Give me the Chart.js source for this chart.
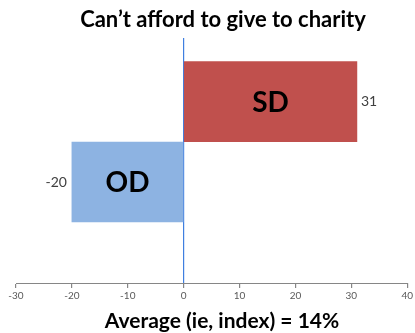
<!DOCTYPE html>
<html lang="en">

<head>
    <meta charset="UTF-8">
    <title>Can't afford to give to charity</title>
    <script src="https://cdn.jsdelivr.net/npm/chart.js"></script>
    <style>
        body { margin: 0; background: #fff; }
    </style>
</head>

<body>
    <canvas id="myChart" width="415" height="333"></canvas>

    <script>
        // chart data
        var categories = ['SD', 'OD'];
        var values = [31, -20];
        var barColors = ['#c0504d', '#8db3e2'];
        var xTicks = [-30, -20, -10, 0, 10, 20, 30, 40];
        var chartTitle = 'Can\u2019t afford to give to charity';
        var bottomTitle = 'Average (ie, index) = 14%';

        var FONT = 'Lato, "Open Sans", sans-serif';

        // titles, bar names and value labels
        var textPlugin = {
            id: 'texts',
            afterDraw: function (chart) {
                var ctx = chart.ctx;
                var meta = chart.getDatasetMeta(0);
                ctx.save();
                meta.data.forEach(function (bar, i) {
                    var v = values[i];
                    var left = Math.min(bar.x, bar.base);
                    var right = Math.max(bar.x, bar.base);
                    ctx.fillStyle = '#000';
                    ctx.font = 'bold 28px ' + FONT;
                    ctx.textAlign = 'center';
                    ctx.textBaseline = 'middle';
                    ctx.fillText(categories[i], (left + right) / 2, bar.y + 1);

                    ctx.fillStyle = '#404040';
                    ctx.font = '14px ' + FONT;
                    if (v >= 0) {
                        ctx.textAlign = 'left';
                        ctx.fillText(String(v), right + 4, bar.y);
                    } else {
                        ctx.textAlign = 'right';
                        ctx.fillText(String(v), left - 5, bar.y);
                    }
                });

                ctx.fillStyle = '#000';
                ctx.textAlign = 'center';
                ctx.textBaseline = 'middle';
                ctx.font = 'bold 22px ' + FONT;
                ctx.fillText(chartTitle, 223, 20);
                ctx.font = 'bold 21px ' + FONT;
                ctx.fillText(bottomTitle, 222, 321);
                ctx.restore();
            }
        };

        function createBarChart() {
            var ctx = document.getElementById('myChart').getContext('2d');
            var myChart = new Chart(ctx, {
                type: 'bar',
                data: {
                    labels: categories,
                    datasets: [{
                        data: values.map(function (v, i) { return { x: v, y: i + 1 }; }),
                        backgroundColor: barColors,
                        borderWidth: 0,
                        barThickness: 80
                    }]
                },
                options: {
                    indexAxis: 'y',
                    responsive: false,
                    animation: false,
                    layout: {
                        padding: { top: 38, left: 16, right: 7, bottom: 0 }
                    },
                    plugins: {
                        legend: { display: false },
                        tooltip: { enabled: false }
                    },
                    scales: {
                        x: {
                            type: 'linear',
                            min: xTicks[0],
                            max: xTicks[xTicks.length - 1],
                            z: 1,
                            afterBuildTicks: function (scale) {
                                scale.ticks = xTicks.map(function (t) { return { value: t }; });
                            },
                            afterFit: function (scale) {
                                scale.height = 50;
                            },
                            grid: {
                                color: function (c) {
                                    return c.tick && c.tick.value === 0 ? '#3f7fe0' : 'rgba(0,0,0,0)';
                                },
                                tickColor: '#868686',
                                tickLength: 5,
                                lineWidth: 1.2
                            },
                            border: { color: '#868686', width: 1 },
                            ticks: {
                                color: '#595959',
                                font: { family: FONT, size: 10 },
                                padding: 2,
                                maxRotation: 0
                            }
                        },
                        y: {
                            type: 'linear',
                            display: false,
                            offset: false,
                            reverse: true,
                            min: 0.21,
                            max: 3.255
                        }
                    }
                },
                plugins: [textPlugin]
            });
        }

        createBarChart();
    </script>
</body>

</html>
